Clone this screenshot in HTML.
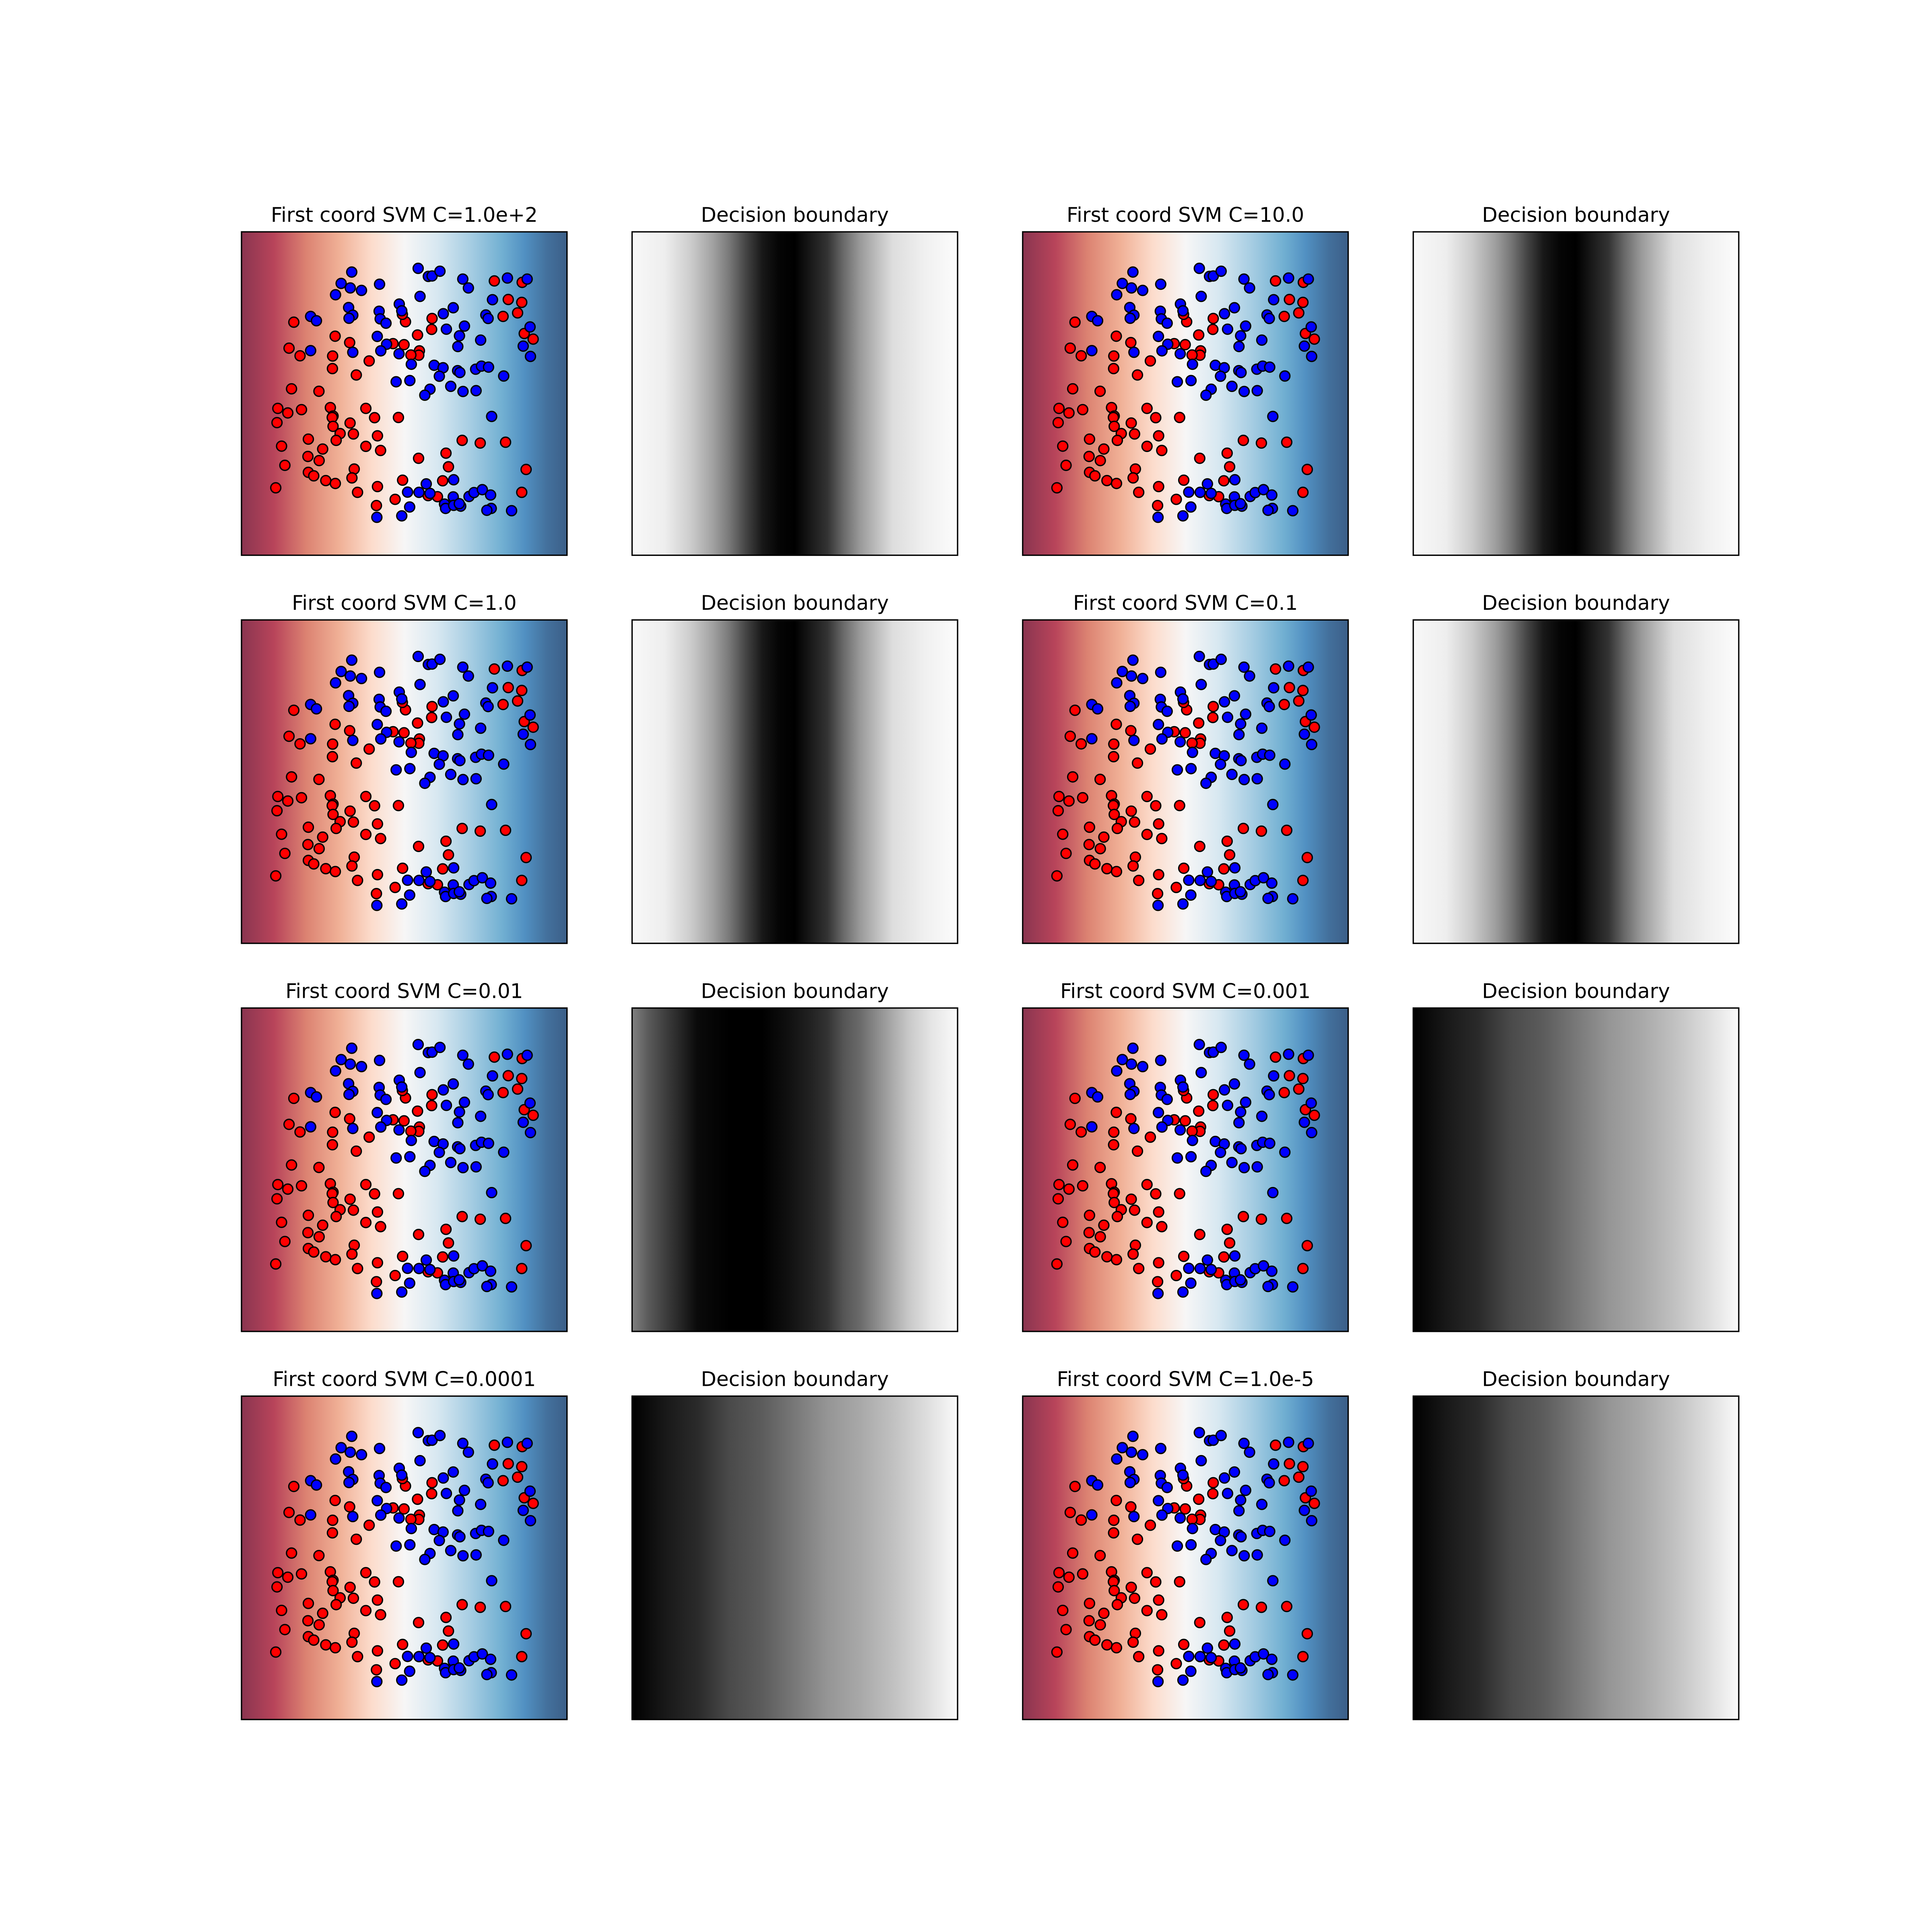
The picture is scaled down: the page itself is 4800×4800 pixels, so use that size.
<!DOCTYPE html>
<html><head><meta charset="utf-8"><style>
html,body{margin:0;padding:0;background:#fff}
svg{display:block}
</style></head><body>
<svg id="fig" xmlns="http://www.w3.org/2000/svg" width="4800" height="4800" viewBox="0 0 4800 4800">
<rect width="4800" height="4800" fill="#fff"/>
<defs id="defs"></defs>
</svg>
<script>
const titles = ["First coord SVM C=1.0e+2","Decision boundary","First coord SVM C=10.0","Decision boundary",
"First coord SVM C=1.0","Decision boundary","First coord SVM C=0.1","Decision boundary",
"First coord SVM C=0.01","Decision boundary","First coord SVM C=0.001","Decision boundary",
"First coord SVM C=0.0001","Decision boundary","First coord SVM C=1.0e-5","Decision boundary"];
// scatter data in panel units (0..1568 both axes, y downward)
const blueX = [531,480,524,578,453,665,851,900,918,956,1066,1093,1281,1376,860,516,536,518,333,361,663,668,696,760,772,972,1020,1209,1177,1188,1074,987,1050,1042,1152,1390,1357,1392,654,699,671,759,536,333,818,928,971,953,1041,1052,1128,1156,1190,1263,745,811,908,883,1008,1067,1130,1205,890,800,855,908,1022,1020,1096,1120,1160,1200,978,983,1022,1056,1049,810,772,652,1203,1182,1301];
const blueY = [195,250,272,284,305,254,177,216,214,191,229,272,224,229,313,367,404,419,410,431,385,422,443,350,383,397,368,329,403,420,457,472,504,556,525,461,554,604,507,545,577,591,584,576,642,647,659,700,673,682,666,651,656,699,727,721,763,792,749,774,770,895,1222,1262,1263,1268,1202,1285,1283,1264,1250,1276,1320,1341,1326,1330,1318,1334,1377,1384,1341,1350,1352];
const redX = [1218,1352,1285,1350,1260,1330,1362,1405,918,916,848,790,775,252,451,521,229,282,439,438,553,615,730,783,857,854,816,241,373,175,223,289,171,428,441,437,441,523,475,539,456,322,193,391,320,374,209,599,641,756,655,599,670,543,532,322,348,406,452,165,559,655,650,740,776,853,985,997,969,899,944,1063,1150,1272,1371,1350];
const redY = [238,245,328,342,410,393,493,520,420,473,500,436,400,438,506,537,564,601,602,663,694,626,542,547,577,598,597,761,773,856,878,862,925,852,893,900,943,927,978,980,1011,1005,1039,1053,1089,1109,1132,856,901,900,989,1040,1060,1150,1193,1166,1183,1206,1220,1241,1263,1235,1327,1297,1204,1098,1073,1139,1207,1279,1284,1011,1024,1020,1152,1263];
const rdbuStops = [[0,"#8a3550"],[0.1,"#b8445a"],[0.2,"#dc8372"],[0.3,"#f0b096"],[0.4,"#fcdccc"],[0.5,"#f7f6f6"],[0.6,"#d8e8f1"],[0.7,"#a8cee3"],[0.8,"#72b0d2"],[0.87,"#5190c2"],[0.94,"#43709c"],[1,"#3c5f88"]];
const dbNarrow = [[0,"#f8f8f8"],[0.1,"#eeeeee"],[0.18,"#cccccc"],[0.25,"#a0a0a0"],[0.3,"#777777"],[0.35,"#444444"],[0.4,"#181818"],[0.45,"#050505"],[0.5,"#000000"],[0.55,"#1a1a1a"],[0.6,"#333333"],[0.65,"#6a6a6a"],[0.7,"#999999"],[0.75,"#bcbcbc"],[0.8,"#dddddd"],[0.9,"#f0f0f0"],[1,"#fcfcfc"]];
const dbMid = [[0,"#808080"],[0.05,"#5a5a5a"],[0.14,"#2a2a2a"],[0.2,"#0a0a0a"],[0.3,"#000000"],[0.4,"#000000"],[0.48,"#101010"],[0.55,"#222222"],[0.6,"#333333"],[0.65,"#555555"],[0.7,"#6a6a6a"],[0.75,"#8a8a8a"],[0.8,"#aaaaaa"],[0.85,"#c8c8c8"],[0.92,"#e5e5e5"],[1,"#fafafa"]];
const dbWide = [[0,"#000000"],[0.1,"#181818"],[0.2,"#2a2a2a"],[0.3,"#4a4a4a"],[0.4,"#5c5c5c"],[0.5,"#787878"],[0.6,"#959595"],[0.7,"#a8a8a8"],[0.8,"#c0c0c0"],[0.9,"#dcdcdc"],[1,"#fafafa"]];
const dbForPanel = [dbNarrow,dbNarrow,dbNarrow,dbNarrow,dbMid,dbWide,dbWide,dbWide];

const NS="http://www.w3.org/2000/svg";
const svg=document.getElementById('fig');
const defs=document.getElementById('defs');
const W=808.7,H=803.5,GX=161.7,GY=160.7,L0=600,T0=576;
function mk(tag,attrs,parent){const e=document.createElementNS(NS,tag);for(const k in attrs)e.setAttribute(k,attrs[k]);(parent||svg).appendChild(e);return e;}
function grad(id,stops){const g=mk('linearGradient',{id:id,x1:0,y1:0,x2:1,y2:0},defs);stops.forEach(s=>mk('stop',{offset:s[0],'stop-color':s[1]},g));}
grad('rdbu',rdbuStops);
dbForPanel.forEach((s,i)=>grad('db'+i,s));
for(let i=0;i<16;i++){
  const r=Math.floor(i/4),c=i%4;
  const x=L0+c*(W+GX),y=T0+r*(H+GY);
  const g=mk('g',{});
  
  
  const isSvm=c%2==0;
  const bg=mk('rect',{x:x,y:y,width:W,height:H,fill:isSvm?'url(#rdbu)':'url(#db'+(Math.floor(i/2))+')'},g);
  
  
  if(isSvm){
    const sx=v=>x+v/1568*W, sy=v=>y+v/1568*H;
    for(let k=0;k<redX.length;k++){
      const p=mk('circle',{cx:sx(redX[k]),cy:sy(redY[k]),r:12.5,fill:'#ff0000',stroke:'#000','stroke-width':3.3},g);
      
      
    }
    for(let k=0;k<blueX.length;k++){
      const p=mk('circle',{cx:sx(blueX[k]),cy:sy(blueY[k]),r:12.5,fill:'#0000ff',stroke:'#000','stroke-width':3.3},g);
      
      
    }
  }
  const fr=mk('rect',{x:x,y:y,width:W,height:H,fill:'none',stroke:'#000','stroke-width':3.3},g);
  
  
  const t=mk('text',{x:x+W/2,y:y-25,'text-anchor':'middle','font-family':'DejaVu Sans, Liberation Sans, sans-serif','font-size':50,fill:'#000'},g);
  t.textContent=titles[i];
  
  
}
</script>
</body></html>
